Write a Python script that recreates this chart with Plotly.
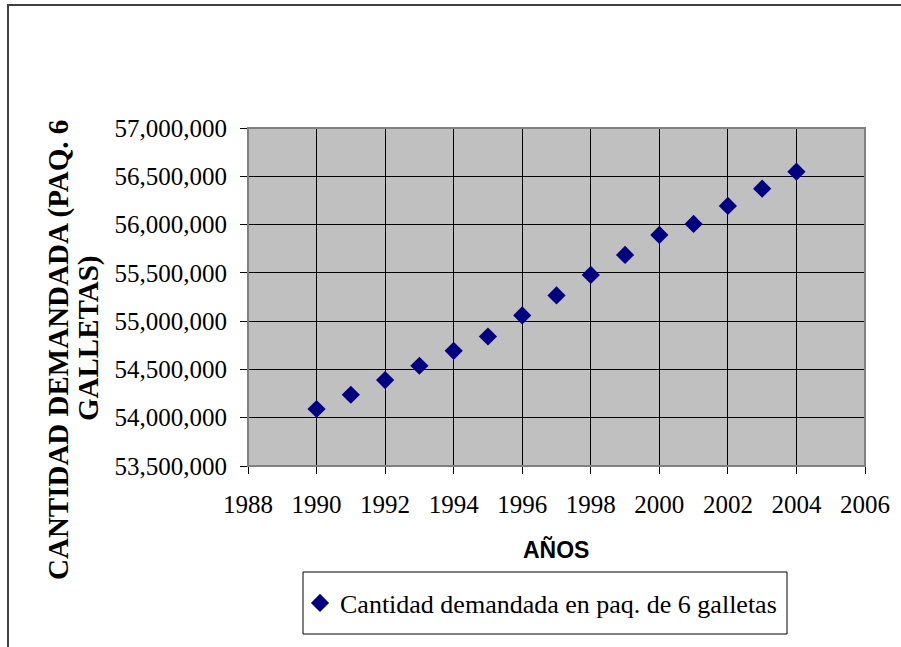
import plotly.graph_objects as go

years = [1990, 1991, 1992, 1993, 1994, 1995, 1996, 1997, 1998, 1999, 2000, 2001, 2002, 2003, 2004]
demand = [54090000, 54238000, 54390000, 54538000, 54693000, 54841000, 55059000, 55266000,
          55479000, 55686000, 55893000, 56007000, 56193000, 56372000, 56548000]
series_name = "Cantidad demandada en paq. de 6 galletas"
x_title = "AÑOS"
y_title_lines = ["CANTIDAD DEMANDADA (PAQ. 6", "GALLETAS)"]

W, H = 901, 647
L, R, T, B = 248, 865, 128, 466
pw, ph = R - L, B - T

def px(x):
    return (x - L) / pw

def py(y):
    return (B - y) / ph

serif = "Liberation Serif"
sans = "Liberation Sans"

fig = go.Figure()
fig.add_trace(go.Scatter(
    x=years, y=demand, mode="markers", name=series_name,
    marker=dict(symbol="diamond", size=14, color="#000080"),
))

fig.update_layout(
    width=W, height=H,
    margin=dict(l=L, r=W - R, t=T, b=H - B),
    paper_bgcolor="white", plot_bgcolor="#C0C0C0",
    showlegend=True,
    legend=dict(
        x=px(300), y=py(603), xanchor="left", yanchor="middle",
        borderwidth=0, bgcolor="rgba(0,0,0,0)",
        font=dict(family=serif, size=26, color="black"),
    ),
    xaxis=dict(
        range=[1988, 2006], tickmode="linear", tick0=1988, dtick=2,
        showgrid=True, gridcolor="black", gridwidth=1,
        showline=True, linecolor="black", linewidth=1,
        ticks="outside", ticklen=7, tickcolor="black",
        tickfont=dict(family=serif, size=25, color="black"),
        ticklabelstandoff=9, zeroline=False,
    ),
    yaxis=dict(
        range=[53500000, 57000000], tickmode="linear", tick0=53500000, dtick=500000,
        tickformat=",d",
        showgrid=True, gridcolor="black", gridwidth=1,
        showline=True, linecolor="black", linewidth=1,
        ticks="outside", ticklen=7, tickcolor="black",
        tickfont=dict(family=serif, size=25, color="black"),
        ticklabelstandoff=8, zeroline=False,
    ),
    shapes=[
        dict(type="rect", xref="paper", yref="paper", x0=0, x1=1, y0=0, y1=1,
             line=dict(color="#808080", width=2), layer="above"),
        dict(type="rect", xref="paper", yref="paper", x0=px(8), x1=px(920), y0=py(5), y1=py(680),
             line=dict(color="#404040", width=2), layer="below"),
        dict(type="rect", xref="paper", yref="paper", x0=px(303), x1=px(787), y0=py(572), y1=py(634),
             line=dict(color="black", width=1), layer="below"),
    ],
    annotations=[
        dict(text="<b>" + x_title + "</b>", xref="paper", yref="paper", x=px(556), y=py(549),
             xanchor="center", yanchor="middle", showarrow=False,
             font=dict(family=sans, size=23, color="black")),
        dict(text="<b>" + y_title_lines[0] + "</b>", xref="paper", yref="paper",
             x=px(58), y=py(350), xanchor="center", yanchor="middle", showarrow=False,
             textangle=-90, font=dict(family=serif, size=29, color="black")),
        dict(text="<b>" + y_title_lines[1] + "</b>", xref="paper", yref="paper",
             x=px(88), y=py(339), xanchor="center", yanchor="middle", showarrow=False,
             textangle=-90, font=dict(family=serif, size=29, color="black")),
    ],
)

fig.write_html("out.html")
